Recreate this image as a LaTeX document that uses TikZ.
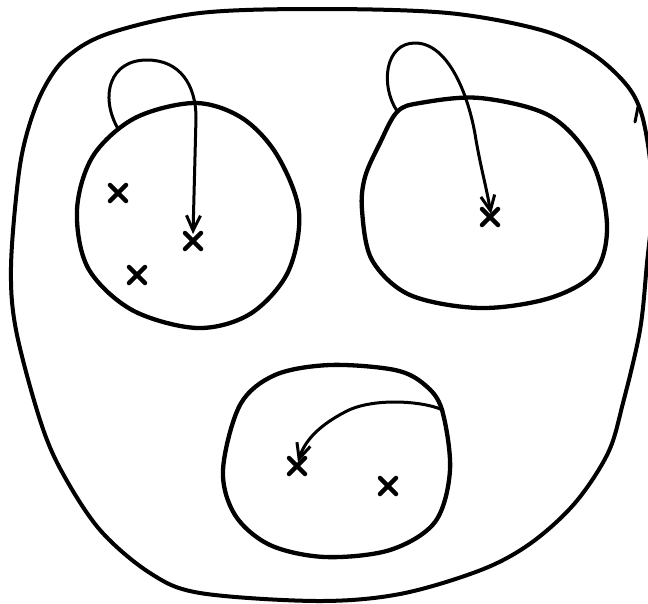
\documentclass[tikz,border=0pt]{standalone}
\usetikzlibrary{arrows.meta,calc}
\begin{document}
\begin{tikzpicture}[x=1pt,y=-1pt,
  blob/.style={line width=4pt,line join=round},
  region/.style={line width=4.3pt,line join=round},
  link/.style={line width=3pt,line cap=round,-{Straight Barb[length=15pt,width=14pt,line width=3pt]}},
  xmark/.style={line width=4.5pt,line cap=round}]
\useasboundingbox (0,0) rectangle (648,603);
% outer set
\draw[blob] plot[smooth cycle,tension=0.55] coordinates {(200,13) (320,9) (448,13) (541,30) (591,53) (625,83) (641,112) (650,160) (652,210) (647,263) (640,330) (623,403) (608,453) (575,503) (531,543) (481,570) (400,594) (317,601) (200,593) (150,573) (100,530) (62,472) (40,420) (16,330) (11,267) (18,180) (27,133) (43,90) (67,57) (110,33)};
\draw[line width=3pt,line cap=round] (638,107) -- (635,122);
% region 1
\draw[region] plot[smooth cycle,tension=0.55] coordinates {(299,212) (277,155) (242,118) (195,103) (135,118) (93,156) (77,210) (88,268) (132,310) (197,328) (250,314) (288,272)};
% region 2
\draw[region] plot[smooth cycle,tension=0.55] coordinates {(607,225) (592,162) (550,116) (480,98) (420,103) (397,112) (380,143) (365,177) (362,210) (372,260) (410,295) (480,308) (550,298) (595,272)};
% region 3
\draw[region] plot[smooth cycle,tension=0.55] coordinates {(450,470) (442,410) (425,385) (395,370) (330,365) (275,375) (240,405) (223,470) (235,515) (270,545) (325,557) (390,550) (435,522)};
% points
\coordinate (a1) at (118,193);
\coordinate (a2) at (137,275);
\coordinate (a3) at (193,241);
\coordinate (b1) at (490,217);
\coordinate (c1) at (297,466);
\coordinate (c2) at (388,486);
\foreach \p in {a1,a2,a3,b1,c1,c2}
  \draw[xmark] ($(\p)+(-8,-8)$) -- ($(\p)+(8,8)$) ($(\p)+(8,-8)$) -- ($(\p)+(-8,8)$);
% loops
\coordinate (s1) at (117,127);
\coordinate (t1) at (193,234);
\draw[link] (s1) .. controls (100,95) and (110,60) .. (147,60) .. controls (180,60) and (196,85) .. (196,118) -- (t1);
\coordinate (s2) at (397,111);
\coordinate (t2) at (491,214);
\draw[link] (s2) .. controls (380,85) and (385,43) .. (415,43) .. controls (450,43) and (470,100) .. (476,140) to[out=-80,in=100] (t2);
\coordinate (s3) at (443,410);
\coordinate (t3) at (298,462);
\draw[link] (s3) .. controls (420,400) and (370,398) .. (345,412) .. controls (320,425) and (305,440) .. (t3);
\end{tikzpicture}
\end{document}
